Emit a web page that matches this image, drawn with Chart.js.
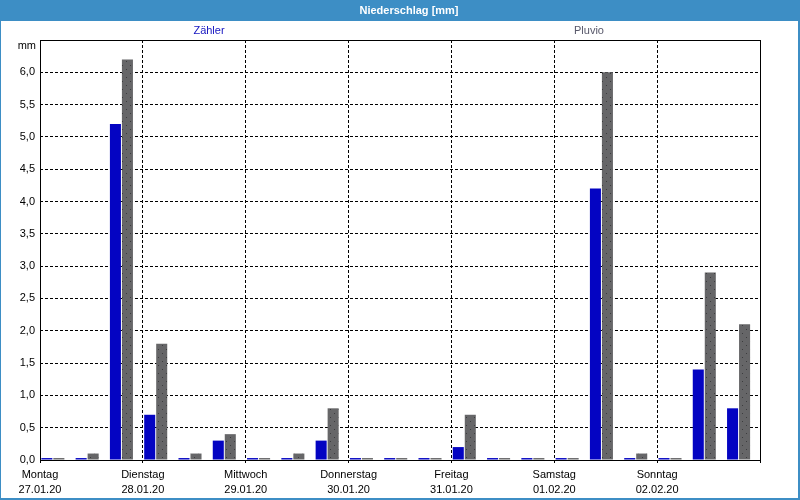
<!DOCTYPE html>
<html>
<head>
<meta charset="utf-8">
<script src="https://cdn.jsdelivr.net/npm/chart.js@4"></script>
<style>
  html, body { margin: 0; padding: 0; background: #fff; }
  #wrap { width: 800px; height: 500px; }
</style>
</head>
<body>
<div id="wrap"><canvas id="rainChart"></canvas></div>
<script>
const title = 'Niederschlag [mm]';
const seriesNames = ['Zähler', 'Pluvio'];
const days = ['Montag', 'Dienstag', 'Mittwoch', 'Donnerstag', 'Freitag', 'Samstag', 'Sonntag'];
const dates = ['27.01.20', '28.01.20', '29.01.20', '30.01.20', '31.01.20', '01.02.20', '02.02.20'];
// 8-hour intervals, hours since Monday 00:00
const hours = [3, 11, 19, 27, 35, 43, 51, 59, 67, 75, 83, 91, 99, 107, 115, 123, 131, 139, 147, 155, 163];
const zaehler = [0.03, 0.03, 5.2, 0.7, 0.03, 0.3, 0.03, 0.03, 0.3, 0.03, 0.03, 0.03, 0.2, 0.03, 0.03, 0.03, 4.2, 0.03, 0.03, 1.4, 0.8];
const pluvio = [0.03, 0.1, 6.2, 1.8, 0.1, 0.4, 0.03, 0.1, 0.8, 0.03, 0.03, 0.03, 0.7, 0.03, 0.03, 0.03, 6.0, 0.1, 0.03, 2.9, 2.1];

const FONT = '"Liberation Sans", Arial, sans-serif';
Chart.defaults.font.family = FONT;
Chart.defaults.font.size = 11;
Chart.defaults.color = '#000';

// grey bars have a dotted texture
function dotPattern() {
    const c = document.createElement('canvas');
    c.width = 8; c.height = 8;
    const g = c.getContext('2d');
    g.fillStyle = '#666668';
    g.fillRect(0, 0, 8, 8);
    g.fillStyle = '#3c3c3e';
    g.fillRect(2, 1, 1, 1);
    g.fillRect(6, 5, 1, 1);
    return g.createPattern(c, 'repeat');
}

const frame = {
    id: 'frame',
    beforeDraw(chart) {
        const {ctx, width, height} = chart;
        ctx.save();
        ctx.fillStyle = '#ffffff';
        ctx.fillRect(0, 0, width, height);
        ctx.fillStyle = '#3d8ec5';
        ctx.fillRect(0, 0, width, 21);
        ctx.fillRect(0, 0, 1, height);
        ctx.fillRect(width - 2, 0, 2, height);
        ctx.fillRect(0, height - 2, width, 2);

        ctx.textAlign = 'center';
        ctx.textBaseline = 'middle';
        ctx.fillStyle = '#ffffff';
        ctx.font = 'bold 11px ' + FONT;
        ctx.fillText(title, 409, 11);

        ctx.font = '11px ' + FONT;
        ctx.fillStyle = '#1414c0';
        ctx.fillText(seriesNames[0], 209, 31);
        ctx.fillStyle = '#58586a';
        ctx.fillText(seriesNames[1], 589, 31);

        ctx.fillStyle = '#000';
        ctx.textAlign = 'right';
        ctx.fillText('mm', 36, 46);
        ctx.restore();
    },
    afterDatasetsDraw(chart) {
        const {ctx, chartArea: a} = chart;
        ctx.save();
        ctx.strokeStyle = '#000';
        ctx.lineWidth = 1;
        ctx.strokeRect(Math.round(a.left) + 0.5, Math.round(a.top) + 0.5,
            Math.round(a.right - a.left), Math.round(a.bottom - a.top));
        ctx.restore();
    }
};

new Chart(document.getElementById('rainChart'), {
    type: 'bar',
    data: {
        datasets: [{
            label: seriesNames[0],
            data: hours.map((h, i) => ({x: h, y: zaehler[i]})),
            backgroundColor: '#0404c2'
        }, {
            label: seriesNames[1],
            data: hours.map((h, i) => ({x: h, y: pluvio[i]})),
            backgroundColor: dotPattern()
        }]
    },
    options: {
        responsive: true,
        maintainAspectRatio: false,
        animation: false,
        events: [],
        categoryPercentage: 0.7,
        barPercentage: 0.92,
        layout: {padding: {top: 40, right: 40, left: 0, bottom: 0}},
        plugins: {legend: {display: false}, tooltip: {enabled: false}},
        scales: {
            x: {
                type: 'linear',
                min: 0,
                max: 168,
                offset: false,
                afterFit: s => { s.height = 40; },
                grid: {color: '#000', lineWidth: 1, drawTicks: true, tickLength: 3, offset: false},
                border: {display: false, dash: [3, 2]},
                ticks: {
                    stepSize: 24,
                    autoSkip: false,
                    maxRotation: 0,
                    padding: 4,
                    font: {size: 11, lineHeight: '15px'},
                    callback: v => {
                        const d = v / 24;
                        return d < days.length ? [days[d], dates[d]] : '';
                    }
                }
            },
            y: {
                min: 0,
                max: 6.5,
                afterFit: s => { s.width = 40; },
                grid: {color: '#000', lineWidth: 1, drawTicks: false},
                border: {display: false, dash: [3, 2]},
                ticks: {
                    stepSize: 0.5,
                    padding: 5,
                    callback: v => v >= 6.5 ? '' : v.toFixed(1).replace('.', ',')
                }
            }
        }
    },
    plugins: [frame]
});
</script>
</body>
</html>
